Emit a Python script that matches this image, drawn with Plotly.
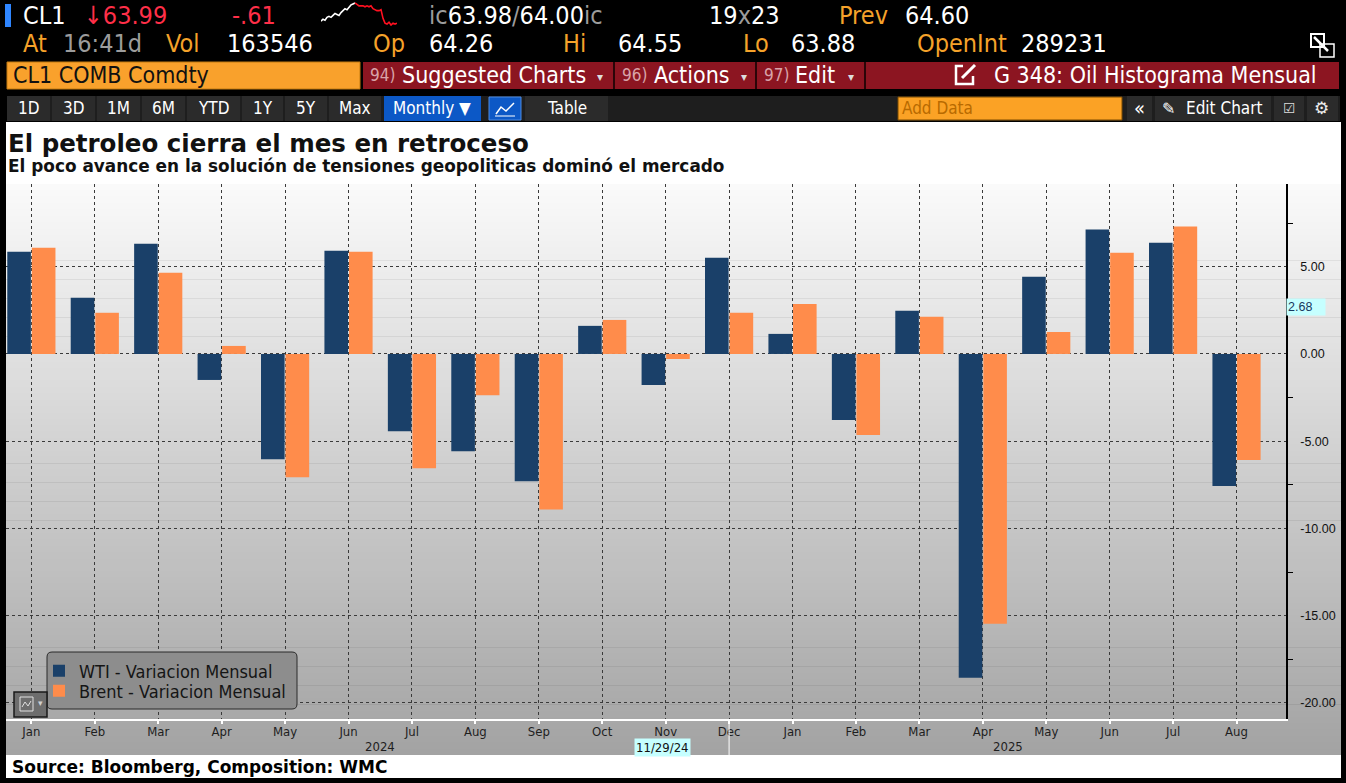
import plotly.graph_objects as go

W, H = 1346, 783

# ---------------- data ----------------
months = ["Jan", "Feb", "Mar", "Apr", "May", "Jun", "Jul", "Aug", "Sep", "Oct", "Nov", "Dec",
          "Jan", "Feb", "Mar", "Apr", "May", "Jun", "Jul", "Aug"]
years = ["2024", "2025"]
year_center = [5.5, 15.4]
wti = [5.86, 3.22, 6.32, -1.49, -6.03, 5.92, -4.43, -5.57, -7.30, 1.61, -1.78, 5.52,
       1.15, -3.79, 2.47, -18.56, 4.43, 7.13, 6.38, -7.57]
brent = [6.09, 2.36, 4.66, 0.46, -7.07, 5.86, -6.55, -2.36, -8.91, 1.95, -0.29, 2.36,
         2.87, -4.65, 2.13, -15.46, 1.26, 5.80, 7.30, -6.07]
series_names = ["WTI - Variacion Mensual", "Brent - Variacion Mensual"]
y_ticks = [5, 0, -5, -10, -15, -20]
y_tick_text = ["5.00", "0.00", "-5.00", "-10.00", "-15.00", "-20.00"]
y_minor = [7.5, 2.5, -2.5, -7.5, -12.5, -17.5]
cursor_value = 2.68
cursor_label = "2.68"
cursor_date = "11/29/24"
spark_prev = [9, 11, 10, 13, 14, 13, 15, 17, 16, 15, 18, 20, 22, 21, 24, 26, 27, 28]
spark_today = [28, 26, 25, 25, 25, 24, 25, 24, 25, 22, 21, 20, 20, 21, 12, 7, 6, 8, 5, 7, 6, 7]

# ---------------- helpers ----------------
NARROW = "Liberation Sans Narrow, Arial Narrow, DejaVu Sans Condensed, Roboto, sans-serif"
BOLD = "DejaVu Sans, Verdana, sans-serif"
RED = "#ff2f48"
ORG = "#f5a22a"
GRY = "#9c9c9c"


def px(x):
    return x / W


def py(y):
    return 1 - y / H


annotations = []
shapes = []


def txt(x, y, s, color="white", size=24, family=NARROW, anchor="left", **kw):
    d = dict(x=px(x), y=py(y), xref="paper", yref="paper", text=s, showarrow=False,
             xanchor=anchor, yanchor="middle", font=dict(family=family, size=size, color=color))
    d.update(kw)
    annotations.append(d)


def rect(x0, y0, x1, y1, fill, line=None, lw=0, layer="below"):
    shapes.append(dict(type="rect", xref="paper", yref="paper", x0=px(x0), x1=px(x1),
                       y0=py(y1), y1=py(y0), fillcolor=fill,
                       line=dict(width=lw, color=line or fill), layer=layer))


def seg(x0, y0, x1, y1, color, w=1, layer="below", dash="solid"):
    shapes.append(dict(type="line", xref="paper", yref="paper", x0=px(x0), x1=px(x1),
                       y0=py(y0), y1=py(y1), line=dict(color=color, width=w, dash=dash), layer=layer))


def round_rect(x0, y0, x1, y1, r, fill, line, lw=1, layer="above"):
    def P(x, y):
        return f"{px(x)},{py(y)}"
    path = (f"M {P(x0 + r, y0)} L {P(x1 - r, y0)} Q {P(x1, y0)} {P(x1, y0 + r)} "
            f"L {P(x1, y1 - r)} Q {P(x1, y1)} {P(x1 - r, y1)} L {P(x0 + r, y1)} "
            f"Q {P(x0, y1)} {P(x0, y1 - r)} L {P(x0, y0 + r)} Q {P(x0, y0)} {P(x0 + r, y0)} Z")
    shapes.append(dict(type="path", xref="paper", yref="paper", path=path, fillcolor=fill,
                       line=dict(color=line, width=lw), layer=layer))


# ---------------- backgrounds ----------------
rect(6, 122, 1341, 184, "white")
N = 90
top, bot = 184, 755
for i in range(N):
    y0 = top + i * (bot - top) / N
    y1 = top + (i + 1) * (bot - top) / N + 0.6
    c = int(round(250 - (i + 0.5) / N * 87))
    rect(6, y0, 1341, y1, f"rgb({c},{c},{c})")
rect(6, 755, 1341, 778, "white")

# header row 1 / 2
rect(5, 4, 11, 27, "#2f86ff")
txt(21, 15, "CL1", "white", 25)
txt(82, 15, "↓63.99", RED, 25)
txt(230, 15, "-.61", RED, 25)
txt(427, 15, f"<span style='color:{GRY}'>ic</span>63.98<span style='color:{GRY}'>/</span>64.00"
              f"<span style='color:{GRY}'>ic</span>", "white", 25)
txt(707, 15, f"19<span style='color:{GRY}'>x</span>23", "white", 25)
txt(837, 15, "Prev", ORG, 25)
txt(903, 15, "64.60", "white", 25)

for x, s, c in [(21, "At", ORG), (61, "16:41d", GRY), (164, "Vol", ORG), (225, "163546", "white"),
                (371, "Op", ORG), (427, "64.26", "white"), (561, "Hi", ORG), (616, "64.55", "white"),
                (741, "Lo", ORG), (789, "63.88", "white"), (915, "OpenInt", ORG), (1019, "289231", "white")]:
    txt(x, 44, s, c, 25)

# expand icon
rect(1311, 34, 1324, 47, "rgba(0,0,0,0)", "white", 2)
rect(1320, 44, 1334, 57, "rgba(0,0,0,0)", "white", 1.5)
seg(1314, 37, 1328, 51, "white", 2.5)

# row 3
rect(7, 62, 360, 89, "#f9a12c", "#c27a10", 1)
txt(11, 75, "CL1 COMB Comdty", "#111111", 23)
rect(363, 62, 1339, 89, "#8c1521")
for xs in [614, 756, 865]:
    seg(xs, 62, xs, 89, "#2a0508", 2)
for x, s in [(368, "94)"), (620, "96)"), (762, "97)")]:
    txt(x, 75, s, "#d9a3a9", 17)
txt(400, 75, "Suggested Charts", "white", 23)
txt(652, 75, "Actions", "white", 23)
txt(793, 75, "Edit", "white", 23)
for x in [595, 739, 846]:
    txt(x, 77, "▾", "#dddddd", 12, "DejaVu Sans")
rect(956, 66, 973, 84, "rgba(0,0,0,0)", "white", 2.5)
rect(963, 63, 977, 76, "#8c1521")
seg(962, 78, 975, 65, "white", 3)
txt(992, 75, "G 348: Oil Histograma Mensual", "white", 23)

# row 4 toolbar
rect(7, 96, 1340, 121, "#1e1e1e")
for s, a, b in [("1D", 7, 50), ("3D", 52, 95), ("1M", 97, 140), ("6M", 142, 185), ("YTD", 187, 240),
                ("1Y", 242, 283), ("5Y", 285, 327), ("Max", 329, 381), ("Table", 525, 608)]:
    rect(a, 96, b, 121, "#2b2b2b")
    txt((a + b) / 2, 108, s, "white", 17, anchor="center")
rect(384, 96, 481, 121, "#0c58c6")
txt(432, 108, "Monthly ▼", "white", 17, anchor="center")
rect(489, 97, 521, 120, "#0c58c6", "#4d8ae0", 1)
shapes.append(dict(type="path", xref="paper", yref="paper", layer="above",
                   path=f"M {px(496)} {py(114)} L {px(501)} {py(107)} L {px(506)} {py(111)} L {px(514)} {py(103)}",
                   line=dict(color="white", width=1.5)))
seg(495, 116, 515, 116, "white", 1, "above")
rect(898, 97, 1122, 120, "#fba225", "#7a4a00", 1)
txt(900, 108, "Add Data", "#b86a00", 17)
rect(1127, 96, 1152, 121, "#2b2b2b")
txt(1139, 108, "«", "white", 20, anchor="center")
rect(1155, 96, 1271, 121, "#2b2b2b")
txt(1160, 108, "✎", "white", 16, "DejaVu Sans")
txt(1184, 108, "Edit Chart", "white", 17)
rect(1274, 96, 1304, 121, "#2b2b2b")
txt(1289, 108, "☑", "#dddddd", 14, "DejaVu Sans", anchor="center")
rect(1307, 96, 1338, 121, "#2b2b2b")
txt(1321, 108, "⚙", "#eeeeee", 17, "DejaVu Sans", anchor="center")

# titles
txt(6, 143, "<b>El petroleo cierra el mes en retroceso</b>", "#111111", 24.5, BOLD)
txt(6, 166, "<b>El poco avance en la solución de tensiones geopoliticas dominó el mercado</b>",
    "#111111", 16.9, BOLD)
txt(10, 767, "<b>Source: Bloomberg, Composition: WMC</b>", "#000000", 17, BOLD)

# legend frame
round_rect(47, 652, 297, 709, 5, "#8d8d8d", "#2b2b2b", 1, "above")

# chart button near legend
rect(14, 692, 47, 717, "#6d6d6d", "#1a1a1a", 1.5, "above")
rect(20, 697, 33, 711, "rgba(0,0,0,0)", "#e0e0e0", 1, "above")
shapes.append(dict(type="path", xref="paper", yref="paper", layer="above",
                   path=f"M {px(22)} {py(707)} L {px(25)} {py(702)} L {px(28)} {py(706)} L {px(31)} {py(701)}",
                   line=dict(color="#e0e0e0", width=1)))
txt(40, 703, "▾", "#d0d0d0", 9, "DejaVu Sans", anchor="center")

# ---------------- traces ----------------
idx = list(range(len(months)))
XR = [-0.40, 19.78]
fig = go.Figure()
fig.add_trace(go.Bar(x=idx, y=wti, name=series_names[0], legend="legend",
                     marker=dict(color="#1a4069", line=dict(width=0))))
fig.add_trace(go.Bar(x=idx, y=brent, name=series_names[1], legend="legend2",
                     marker=dict(color="#ff8c4b", line=dict(width=0))))
fig.add_trace(go.Scatter(x=[XR[1] + 0.075] * len(y_ticks), y=y_ticks, mode="markers",
                         marker=dict(symbol="triangle-right", size=7, color="black"),
                         cliponaxis=False, showlegend=False, hoverinfo="skip"))
# sparkline
n1 = len(spark_prev)
fig.add_trace(go.Scatter(x=list(range(n1)), y=spark_prev, mode="lines", xaxis="x2", yaxis="y2",
                         line=dict(color="white", width=1.6), showlegend=False, hoverinfo="skip"))
fig.add_trace(go.Scatter(x=list(range(n1 - 1, n1 - 1 + len(spark_today))), y=spark_today, mode="lines",
                         xaxis="x2", yaxis="y2", line=dict(color="#ff1020", width=1.6),
                         showlegend=False, hoverinfo="skip"))

# cursor readouts
annotations.append(dict(x=px(1286), y=cursor_value, xref="paper", yref="y", text=cursor_label,
                        showarrow=False, xanchor="left", yanchor="middle", bgcolor="#c6ffff",
                        font=dict(family="Liberation Sans, sans-serif", size=12.5, color="#17375e"),
                        width=36, align="left", borderpad=1))
annotations.append(dict(x=9.95, y=py(747), xref="x", yref="paper", text=cursor_date, showarrow=False,
                        xanchor="center", yanchor="middle", bgcolor="#c6ffff",
                        font=dict(family=NARROW, size=13, color="#111111"), borderpad=1))
shapes.append(dict(type="line", xref="x", yref="paper", x0=11, x1=11, y0=py(719), y1=py(755),
                   line=dict(color="white", width=1), layer="above"))
for yr, c in zip(years, year_center):
    annotations.append(dict(x=c, y=py(746), xref="x", yref="paper", text=yr, showarrow=False,
                            xanchor="center", yanchor="middle",
                            font=dict(family=NARROW, size=13, color="#1e1e1e")))

leg_common = dict(xanchor="left", yanchor="middle", bgcolor="rgba(0,0,0,0)", borderwidth=0,
                  font=dict(family=NARROW, size=18, color="#151515"), itemwidth=30)

fig.update_layout(
    width=W, height=H, margin=dict(l=0, r=0, t=0, b=0),
    paper_bgcolor="black", plot_bgcolor="rgba(0,0,0,0)",
    barmode="group", bargap=0.225, bargroupgap=0.04,
    showlegend=True,
    xaxis=dict(domain=[px(6), px(1286)], range=XR, tickmode="array", tickvals=idx, ticktext=months,
               showgrid=True, gridcolor="#3a3a3a", griddash="dot", gridwidth=1, zeroline=False,
               showline=True, linecolor="white", linewidth=2, ticks="outside", ticklen=3,
               tickcolor="white", tickwidth=2, ticklabelstandoff=-4,
               tickfont=dict(family=NARROW, size=13, color="#1e1e1e"), fixedrange=True),
    yaxis=dict(domain=[py(719), py(184)], range=[-20.92, 9.74], side="right", tickmode="array",
               tickvals=y_ticks, ticktext=y_tick_text, showgrid=True, gridcolor="#3a3a3a",
               griddash="dot", gridwidth=1, zeroline=False, showline=True, linecolor="black",
               linewidth=1.5, ticks="", ticklabelstandoff=10,
               minor=dict(tickmode="array", tickvals=y_minor, ticks="outside", ticklen=5,
                          tickcolor="black", tickwidth=1, showgrid=False),
               tickfont=dict(family="Liberation Sans, sans-serif", size=12.5, color="#111111"),
               fixedrange=True),
    xaxis2=dict(domain=[px(321), px(397)], anchor="y2", visible=False,
                range=[0, n1 - 1 + len(spark_today) - 1]),
    yaxis2=dict(domain=[py(26), py(2)], anchor="x2", visible=False, range=[4, 29]),
    legend=dict(x=px(39), y=py(671), **leg_common),
    legend2=dict(x=px(39), y=py(691), **leg_common),
    annotations=annotations, shapes=shapes,
)

fig.write_html("out.html", config={"displayModeBar": False},
               post_script="document.body.style.margin='0px';document.body.style.overflow='hidden';")
